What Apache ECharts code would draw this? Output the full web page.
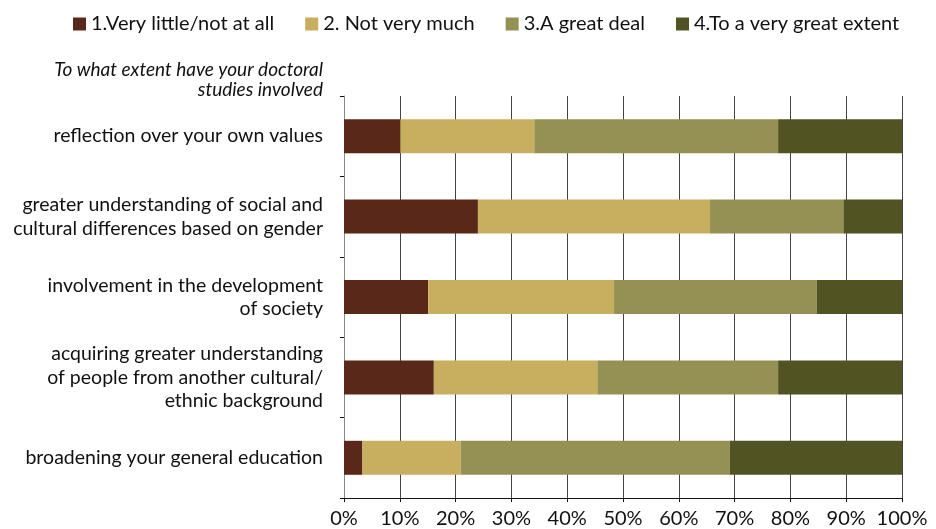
<!DOCTYPE html>
<html>
<head>
<meta charset="utf-8">
<script src="https://cdn.jsdelivr.net/npm/echarts@6/dist/echarts.min.js"></script>
<style>
  html, body { margin: 0; padding: 0; background: #fff; }
  #chart { width: 936px; height: 529px; }
</style>
</head>
<body>
<div id="chart"></div>
<script>
// categories, top to bottom
var categories = [
  'reflection over your own values',
  'greater understanding of social and\ncultural differences based on gender',
  'involvement in the development\nof society',
  'acquiring greater understanding\nof people from another cultural/\nethnic background',
  'broadening your general education'
]

var seriesNames = ['1.Very little/not at all', '2. Not very much', '3.A great deal', '4.To a very great extent']
var seriesColors = ['#5a2819', '#c8ae5f', '#959153', '#525323']

// percentages, one array per answer
var veryLittle = [10.1, 24.0, 15.1, 16.1, 3.3]
var notVeryMuch = [24.0, 41.6, 33.3, 29.3, 17.6]
var greatDeal = [43.7, 23.9, 36.3, 32.4, 48.2]
var veryGreat = [22.2, 10.6, 15.3, 22.2, 30.9]

var xTicks = [0, 10, 20, 30, 40, 50, 60, 70, 80, 90, 100]

var font = 'Lato, "Open Sans", sans-serif'
var values = [veryLittle, notVeryMuch, greatDeal, veryGreat]

var series = values.map(function (data, i) {
  return {
    name: seriesNames[i],
    type: 'bar',
    stack: 'total',
    barWidth: 34,
    itemStyle: { color: seriesColors[i] },
    data: data
  }
})

var chart = echarts.init(document.getElementById('chart'))
chart.setOption({
  animation: false,
  textStyle: { fontFamily: font },
  legend: {
    top: 9,
    left: 68,
    icon: 'rect',
    itemWidth: 13,
    itemHeight: 13,
    itemGap: 31,
    textStyle: { fontSize: 20, color: '#111', fontFamily: font },
    data: seriesNames
  },
  graphic: [{
    type: 'text',
    x: 323,
    y: 60,
    style: {
      text: 'To what extent have your doctoral\nstudies involved',
      align: 'right',
      font: 'italic 19px ' + font,
      lineHeight: 20,
      fill: '#111'
    }
  }],
  grid: { left: 344, right: 34, top: 96, bottom: 31, containLabel: false },
  xAxis: {
    type: 'value',
    min: xTicks[0],
    max: xTicks[xTicks.length - 1],
    interval: 10,
    axisLine: { show: true, lineStyle: { color: '#111', width: 1 } },
    axisTick: { show: true, inside: false, length: 4, lineStyle: { color: '#111' } },
    axisLabel: { formatter: '{value}%', fontSize: 20, color: '#111', margin: 11 },
    splitLine: { show: true, lineStyle: { color: '#444', width: 1 } }
  },
  yAxis: {
    type: 'category',
    inverse: true,
    data: categories,
    axisLine: { show: true, lineStyle: { color: '#888' } },
    axisTick: { show: true, length: 4, lineStyle: { color: '#111' } },
    axisLabel: { fontSize: 19.5, color: '#111', lineHeight: 23.5, margin: 21, align: 'right' }
  },
  series: series
})
</script>
</body>
</html>
